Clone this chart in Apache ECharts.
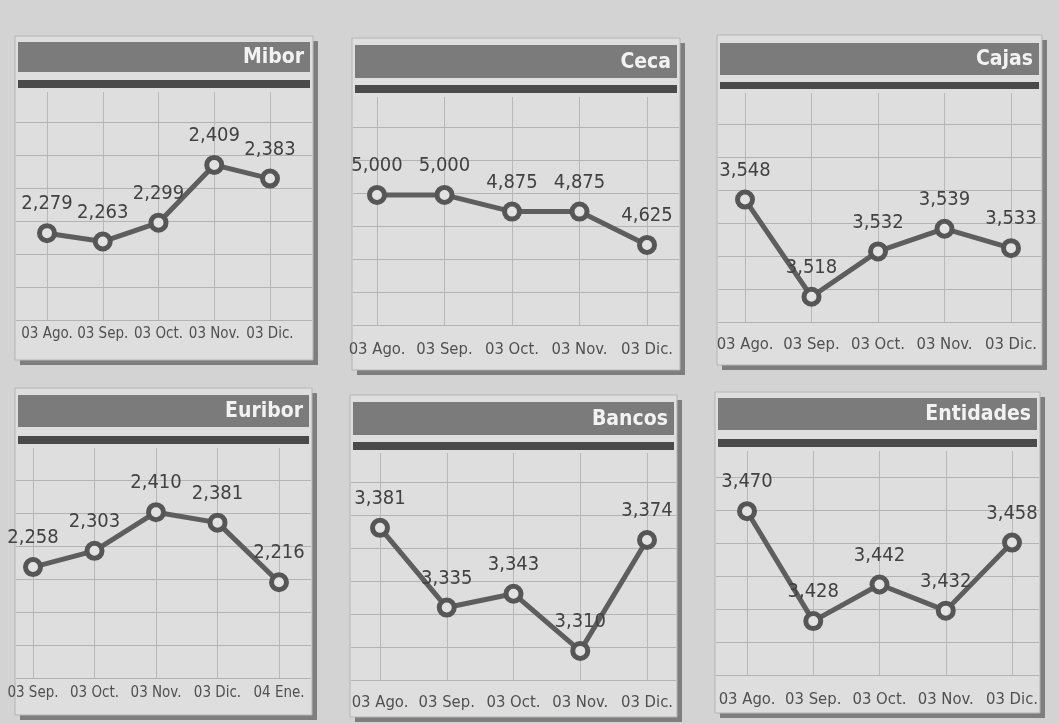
<!DOCTYPE html>
<html>
<head>
<meta charset="utf-8">
<script src="https://cdn.jsdelivr.net/npm/echarts@6/dist/echarts.min.js"></script>
<style>
html,body{margin:0;padding:0;background:#d3d3d3;}
#c{width:1059px;height:724px;}
</style>
</head>
<body>
<div id="c"></div>
<script>
// ---- data ----
const titles = ['Mibor', 'Ceca', 'Cajas', 'Euribor', 'Bancos', 'Entidades'];
const monthsAgoDic = ['03 Ago.', '03 Sep.', '03 Oct.', '03 Nov.', '03 Dic.'];
const monthsSepEne = ['03 Sep.', '03 Oct.', '03 Nov.', '03 Dic.', '04 Ene.'];
const mibor = [2.279, 2.263, 2.299, 2.409, 2.383];
const ceca = [5.000, 5.000, 4.875, 4.875, 4.625];
const cajas = [3.548, 3.518, 3.532, 3.539, 3.533];
const euribor = [2.258, 2.303, 2.410, 2.381, 2.216];
const bancos = [3.381, 3.335, 3.343, 3.310, 3.374];
const entidades = [3.470, 3.428, 3.442, 3.432, 3.458];

// ---- layout (positions & sizes) ----
const panels = [
  {title: titles[0], cats: monthsAgoDic, vals: mibor,     box: [15, 36, 298, 324], head: [42, 72], bar: [80, 88],   plot: [47, 270, 92, 320],  y: [2.1135, 2.548], lm: 7, af: 15},
  {title: titles[1], cats: monthsAgoDic, vals: ceca,      box: [352, 38, 328, 332], head: [45, 78], bar: [85, 93],  plot: [377, 647, 97, 325], y: [4.024, 5.735], lm: 16, af: 16.5},
  {title: titles[2], cats: monthsAgoDic, vals: cajas,     box: [717, 35, 325, 330], head: [43, 75], bar: [82, 89],  plot: [745, 1011, 93, 322], y: [3.5102, 3.5809], lm: 14, af: 16.5},
  {title: titles[3], cats: monthsSepEne, vals: euribor,   box: [15, 388, 297, 327], head: [395, 427], bar: [436, 444], plot: [33, 279, 448, 678], y: [1.9507, 2.5878], lm: 8, af: 15},
  {title: titles[4], cats: monthsAgoDic, vals: bancos,    box: [350, 395, 327, 322], head: [402, 435], bar: [442, 450], plot: [380, 647, 453, 680], y: [3.2932, 3.4242], lm: 14, af: 16.5},
  {title: titles[5], cats: monthsAgoDic, vals: entidades, box: [715, 392, 325, 321], head: [398, 430], bar: [439, 447], plot: [747, 1012, 451, 675], y: [3.4074, 3.493], lm: 16, af: 16.5}
];

const FONT = "'Liberation Sans Narrow', 'DejaVu Sans Condensed', 'Roboto', sans-serif";
const LINE_STEP = 33;

const grid = [], xAxis = [], yAxis = [], series = [], graphic = [];

panels.forEach((p, i) => {
  const [bx, by, bw, bh] = p.box;
  graphic.push({type: 'rect', z: 0, shape: {x: bx + 5, y: by + 5, width: bw, height: bh}, style: {fill: '#7e7e7e'}});
  graphic.push({type: 'rect', z: 0, shape: {x: bx, y: by, width: bw, height: bh}, style: {fill: '#dedede', stroke: '#b4b4b4', lineWidth: 1}});
  graphic.push({type: 'rect', z: 0, shape: {x: bx + 3, y: p.head[0], width: bw - 6, height: p.head[1] - p.head[0]}, style: {fill: '#7b7b7b'}});
  graphic.push({type: 'rect', z: 0, shape: {x: bx + 3, y: p.bar[0], width: bw - 6, height: p.bar[1] - p.bar[0]}, style: {fill: '#4a4a4a'}});
  graphic.push({type: 'text', z: 1, x: bx + bw - 9, y: (p.head[0] + p.head[1]) / 2 + 1,
    style: {text: p.title, fill: '#f2f2f2', font: "bold 21px " + FONT, textAlign: 'right', textVerticalAlign: 'middle'}});

  const [x0, x1, top, bottom] = p.plot;
  const k = Math.floor((bottom - top) / LINE_STEP);

  // background grid: horizontal rules across the whole box
  grid.push({left: bx + 1, width: bw - 2, top: bottom - k * LINE_STEP, height: k * LINE_STEP});
  xAxis.push({type: 'value', gridIndex: 2 * i, show: false, min: 0, max: 1});
  yAxis.push({type: 'value', gridIndex: 2 * i, min: 0, max: k, interval: 1, z: 1,
    axisLine: {show: false}, axisTick: {show: false}, axisLabel: {show: false},
    splitLine: {show: true, lineStyle: {color: '#b3b3b3', width: 1}}});

  // data grid
  grid.push({left: x0, width: x1 - x0, top: top, height: bottom - top});
  xAxis.push({type: 'category', gridIndex: 2 * i + 1, data: p.cats, boundaryGap: false, z: 1,
    axisLine: {show: false}, axisTick: {show: false},
    axisLabel: {margin: p.lm, color: '#505050', fontSize: p.af, fontFamily: FONT, interval: 0},
    splitLine: {show: true, lineStyle: {color: '#b8b8b8', width: 1}}});
  yAxis.push({type: 'value', gridIndex: 2 * i + 1, min: p.y[0], max: p.y[1], show: false, splitLine: {show: false}});

  series.push({
    type: 'line', xAxisIndex: 2 * i + 1, yAxisIndex: 2 * i + 1, data: p.vals, z: 5,
    symbol: 'circle', symbolSize: 15,
    lineStyle: {color: '#5e5e5e', width: 5},
    itemStyle: {color: '#e2e2e2', borderColor: '#565656', borderWidth: 5},
    label: {show: true, position: 'top', distance: 9, color: '#424242', fontSize: 20, fontFamily: FONT,
      formatter: d => d.value.toFixed(3).replace('.', ',')},
    emphasis: {disabled: true},
    animation: false
  });
});

const chart = echarts.init(document.getElementById('c'));
chart.setOption({
  backgroundColor: '#d3d3d3',
  animation: false,
  graphic: graphic,
  grid: grid,
  xAxis: xAxis,
  yAxis: yAxis,
  series: series
});
</script>
</body>
</html>
